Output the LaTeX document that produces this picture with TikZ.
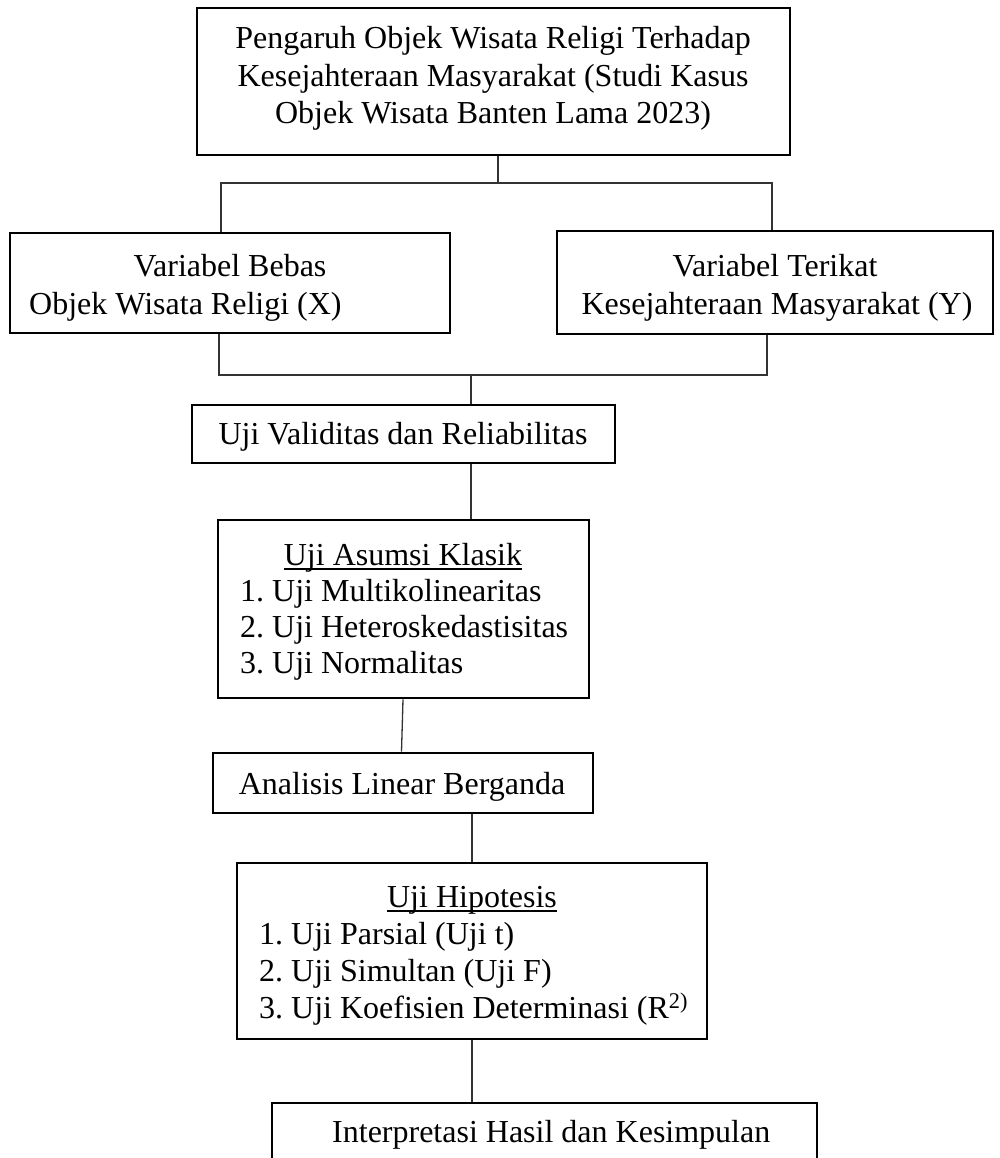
\documentclass[tikz,border=0pt]{standalone}
\usepackage{fontspec}
\setmainfont{Liberation Serif}
\frenchspacing
\begin{document}
\begin{tikzpicture}[x=1pt,y=-1pt,
  box/.style={draw=black, line width=2.7pt, rectangle, inner sep=0pt},
  conn/.style={draw=black!80, line width=1.3pt},
  txt/.style={inner sep=0pt, font=\fontsize{32}{37.5}\selectfont\frenchspacing},
  ul/.style={draw=black, line width=1.4pt}]
\useasboundingbox (0,0) rectangle (1000,1158);
\fill[white] (0,0) rectangle (1000,1158);

% boxes
\node[box, minimum width=593pt, minimum height=147pt] (top) at (493.5,81.5) {};
\node[box, minimum width=440pt, minimum height=100pt] (bebas) at (230,283) {};
\node[box, minimum width=436pt, minimum height=103pt] (terikat) at (775,282.5) {};
\node[box, minimum width=423pt, minimum height=58pt] (valid) at (403.5,434) {};
\node[box, minimum width=371pt, minimum height=178pt] (asumsi) at (403.5,609) {};
\node[box, minimum width=380pt, minimum height=60pt] (analisis) at (403,783) {};
\node[box, minimum width=470pt, minimum height=176pt] (hipo) at (472,951) {};
\node[box, minimum width=545pt, minimum height=80pt] (interp) at (544.5,1143) {};

% texts
\node[txt, anchor=base] (t1) at (493,49) {Pengaruh Objek Wisata Religi Terhadap};
\node[txt, anchor=base] (t2) at (493,87) {Kesejahteraan Masyarakat (Studi Kasus};
\node[txt, anchor=base] (t3) at (493,124) {Objek Wisata Banten Lama 2023)};

\node[txt, anchor=base] (b1) at (230,276) {Variabel Bebas};
\node[txt, anchor=base west] (b2) at (29,314) {Objek Wisata Religi (X)};

\node[txt, anchor=base] (r1) at (775,276) {Variabel Terikat};
\node[txt, anchor=base] (r2) at (777,314) {Kesejahteraan Masyarakat (Y)};

\node[txt, anchor=base] (v1) at (403,444) {Uji Validitas dan Reliabilitas};

\node[txt, anchor=base] (a0) at (403,565) {Uji Asumsi Klasik};
\draw[ul] ([yshift=-4pt]a0.base west) -- ([yshift=-4pt]a0.base east);
\node[txt, anchor=base west] (a1) at (240,601) {1. Uji Multikolinearitas};
\node[txt, anchor=base west] (a2) at (240,637) {2. Uji Heteroskedastisitas};
\node[txt, anchor=base west] (a3) at (240,673) {3. Uji Normalitas};

\node[txt, anchor=base] (l1) at (402,794) {Analisis Linear Berganda};

\node[txt, anchor=base] (h0) at (472,907) {Uji Hipotesis};
\draw[ul] ([yshift=-4pt]h0.base west) -- ([yshift=-4pt]h0.base east);
\node[txt, anchor=base west] (h1) at (259,944) {1. Uji Parsial (Uji t)};
\node[txt, anchor=base west] (h2) at (259,981) {2. Uji Simultan (Uji F)};
\node[txt, anchor=base west] (h3) at (259,1018) {3. Uji Koefisien Determinasi (R\textsuperscript{2)}};

\node[txt, anchor=base west] (i1) at (332,1142) {Interpretasi Hasil dan Kesimpulan};

% connectors
\coordinate (jl) at (221,183);
\coordinate (jr) at (772,183);
\coordinate (jt) at (498,183);
\coordinate (kl) at (219,375);
\coordinate (kr) at (767,375);
\coordinate (kc) at (471,375);

\draw[conn] (jt |- top.south) -- (jt);
\draw[conn] (jl |- bebas.north) -- (jl) -- (jr) -- (jr |- terikat.north);
\draw[conn] (kl |- bebas.south) -- (kl) -- (kr) -- (kr |- terikat.south);
\draw[conn] (kc) -- (kc |- valid.north);
\draw[conn] (kc |- valid.south) -- (kc |- asumsi.north);
\draw[conn] ([xshift=-0.5pt]asumsi.south) -- ([xshift=-1.5pt]analisis.north);
\draw[conn] (hipo.north |- analisis.south) -- (hipo.north);
\draw[conn] (hipo.south) -- (hipo.south |- interp.north);
\end{tikzpicture}
\end{document}
